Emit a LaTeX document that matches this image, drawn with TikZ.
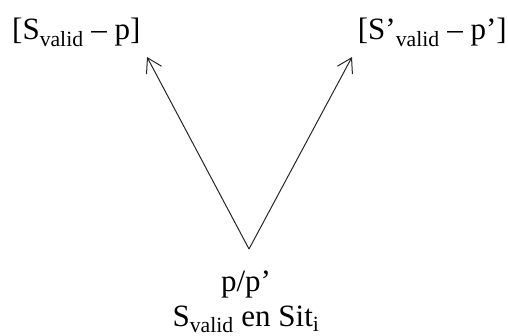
\documentclass[tikz,border=0pt]{standalone}
\usepackage{fontspec}
\setmainfont{Liberation Serif}
\usetikzlibrary{arrows.meta,positioning}
\tikzset{
  term/.style={font=\fontsize{31}{36}\selectfont, inner sep=0pt},
  link/.style={-{Straight Barb[length=14pt,width=17pt]}, line width=1pt, black!85}
}

\begin{document}
\begin{tikzpicture}[x=1pt,y=-1pt]
  \useasboundingbox (0,0) rectangle (508,336);
  \node[term, anchor=base west] (left) at (12,40) {[S\textsubscript{valid} -- p]};
  \node[term, anchor=base east] (right) at (507,40) {[S’\textsubscript{valid} -- p’]};
  \node[term, anchor=base] (pp) at (246,291) {p/p’};
  \node[term, anchor=base] (sit) at (246,326) {S\textsubscript{valid} en Sit\textsubscript{i}};
  \coordinate (vertex) at (249,249);
  \coordinate (tipl) at (147,57);
  \coordinate (tipr) at (352,57);
  \draw[link] (vertex) -- (tipl);
  \draw[link] (vertex) -- (tipr);
\end{tikzpicture}
\end{document}
